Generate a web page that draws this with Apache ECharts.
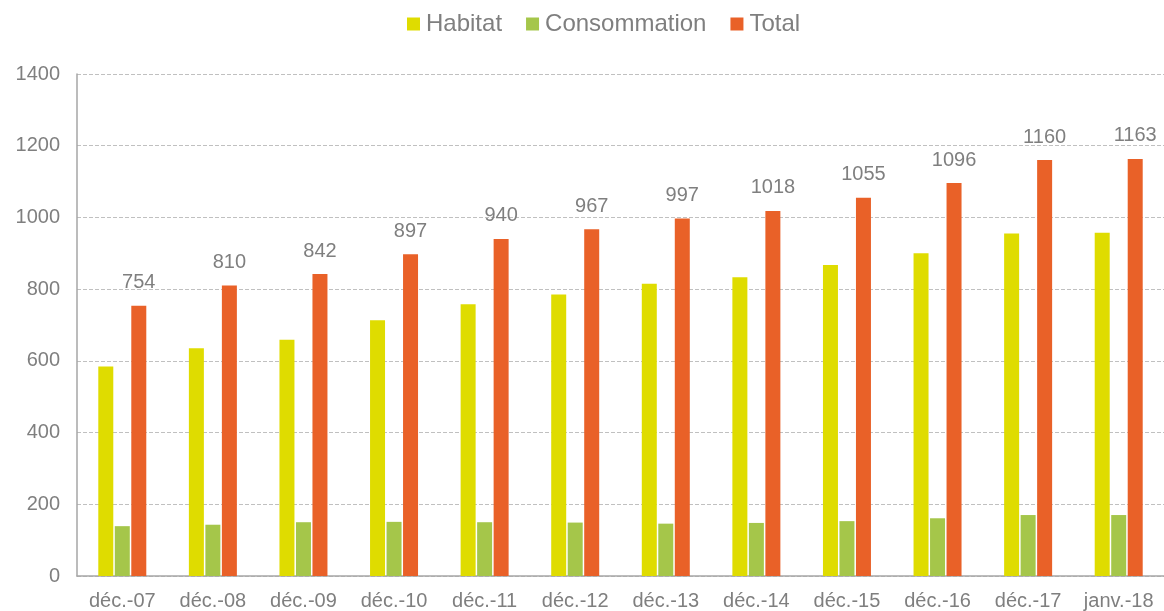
<!DOCTYPE html>
<html><head><meta charset="utf-8">
<script src="https://cdn.jsdelivr.net/npm/echarts@6/dist/echarts.min.js"></script>
<style>html,body{margin:0;padding:0;background:#fff}#c{width:1164px;height:611px}</style>
</head><body><div id="c"></div>
<script>
const categories = ['déc.-07','déc.-08','déc.-09','déc.-10','déc.-11','déc.-12','déc.-13','déc.-14','déc.-15','déc.-16','déc.-17','janv.-18'];
const habitat = [584, 635, 659, 713, 758, 785, 815, 833, 867, 900, 955, 957];
const consommation = [139, 143, 150, 151, 150, 149, 146, 148, 153, 161, 170, 170];
const total = [754, 810, 842, 897, 940, 967, 997, 1018, 1055, 1096, 1160, 1163];
const yTicks = {min: 0, max: 1400, interval: 200};

const font = '"Liberation Sans", Arial, sans-serif';
const grey = '#7f7f7f';
const chart = echarts.init(document.getElementById('c'));
chart.setOption({
  animation: false,
  textStyle: {fontFamily: font},
  legend: {
    top: 7, left: 402, itemWidth: 13, itemHeight: 13, itemGap: 24,
    icon: 'rect',
    textStyle: {fontSize: 24, color: grey, fontFamily: font, padding: [0,0,0,1]},
    data: ['Habitat','Consommation','Total']
  },
  grid: {left: 77, right: -2, top: 74, bottom: 34, containLabel: false},
  xAxis: {
    type: 'category', data: categories,
    axisLine: {lineStyle: {color: '#a6a6a6', width: 1.5}},
    axisTick: {show: false},
    axisLabel: {fontSize: 20, color: grey, margin: 15, fontFamily: font, interval: 0}
  },
  yAxis: {
    type: 'value', min: yTicks.min, max: yTicks.max, interval: yTicks.interval,
    axisLine: {show: true, lineStyle: {color: '#a6a6a6', width: 1.5}},
    axisTick: {show: false},
    axisLabel: {fontSize: 20, color: grey, margin: 17, fontFamily: font, formatter: v => String(v)},
    splitLine: {lineStyle: {color: '#c0c0c0', type: [4,2], width: 1}}
  },
  series: [
    {name: 'Habitat', type: 'bar', data: habitat, barWidth: 15, barGap: '10%',
     itemStyle: {color: '#dfdc00'}},
    {name: 'Consommation', type: 'bar', data: consommation, barWidth: 15, barGap: '10%',
     itemStyle: {color: '#a5c64a'}},
    {name: 'Total', type: 'bar', data: total, barWidth: 15, barGap: '10%',
     itemStyle: {color: '#e96128'},
     label: {show: true, position: 'top', distance: 13, fontSize: 20, color: grey, fontFamily: font}}
  ]
});
</script></body></html>
